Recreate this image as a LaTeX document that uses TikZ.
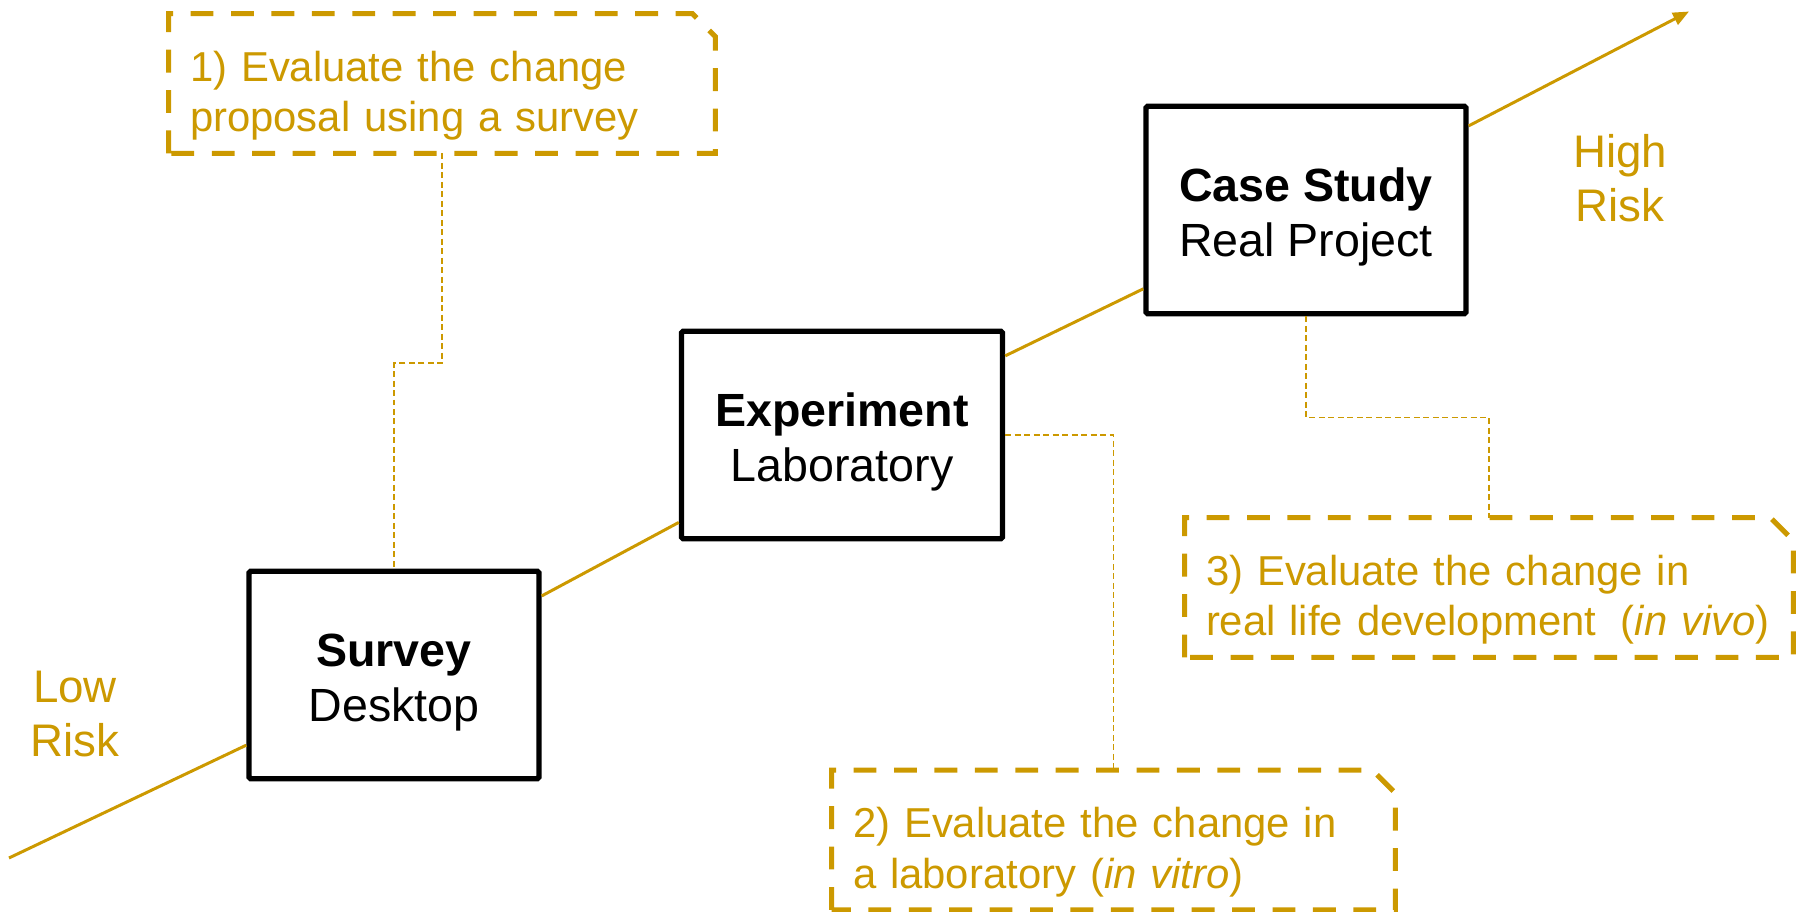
\documentclass[tikz,border=0pt]{standalone}
\usepackage{fontspec}
\setmainfont{Liberation Sans}
\usetikzlibrary{positioning, arrows.meta}

\definecolor{riskgold}{RGB}{204,153,0}

\begin{document}
\begin{tikzpicture}[
		>={Triangle[length=0.32cm, width=0.26cm]},
		method/.style={draw, rectangle, line width=3.1pt, rounded corners=1pt, fill=white, minimum height=4.15cm, align=center, font=\fontsize{26.5}{31}\selectfont},
		callout/.style={rectangle, text=riskgold, minimum height=2.78cm, inner xsep=0.42cm, inner ysep=0pt, align=left, font=\fontsize{23.8}{28.8}\selectfont},
		calloutline/.style={draw=riskgold, line width=2.9pt, dash pattern=on 13pt off 10pt},
		leader/.style={draw=riskgold, line width=1.1pt, dash pattern=on 3.4pt off 2pt},
		risk/.style={text=riskgold, align=center, font=\fontsize{26}{31}\selectfont}
	]

	\useasboundingbox (0, 0) rectangle (36.04, 18.24);

	\coordinate (lowend) at (0.18, 1.08);
	\coordinate (highend) at (33.78, 18.01);

	\node[method, minimum width=5.8cm] (survey) at (7.88, 4.74) {\rule{0pt}{0.95cm}\textbf{Survey}\\Desktop};
	\node[method, minimum width=6.42cm] (experiment) at (16.84, 9.54) {\rule{0pt}{0.95cm}\textbf{Experiment}\\Laboratory};
	\node[method, minimum width=6.4cm] (casestudy) at (26.12, 14.04) {\rule{0pt}{0.95cm}\textbf{Case Study}\\Real Project};

	\draw [->, riskgold, line width=1.7pt] (lowend) -- (survey) -- (experiment) -- (casestudy) -- (highend);

	\node[risk] (lowrisk) at (1.5, 3.96) {Low\\Risk};
	\node[risk] (highrisk) at (32.4, 14.68) {High\\Risk};

	% callouts
	\node[callout, text width=10.08cm] (survcall) at (8.84, 16.57) {\rule{0pt}{1.1cm}1) Evaluate the change\\proposal using a survey};
	\node[callout, text width=10.42cm] (expcall) at (22.27, 1.44) {\rule{0pt}{1.1cm}2) Evaluate the change in\\a laboratory (\textit{in vitro})};
	\node[callout, text width=11.32cm] (casecall) at (29.78, 6.49) {\rule{0pt}{1.1cm}3) Evaluate the change in\\real life development\hspace{0.25em} (\textit{in vivo})};

	\foreach \c in {survcall, expcall, casecall}
		\draw [calloutline] (\c.south west) -- (\c.north west) -- ([xshift=-0.46cm]\c.north east) -- ([yshift=-0.46cm]\c.north east) -- (\c.south east) -- cycle;

	\draw [leader] (survcall.south) -- ++(0, -4.2) -| (survey.north);
	\draw [leader] (experiment.east) -| (expcall.north);
	\draw [leader] (casestudy.south) -- ++(0, -2.02) -| (casecall.north);

\end{tikzpicture}
\end{document}
